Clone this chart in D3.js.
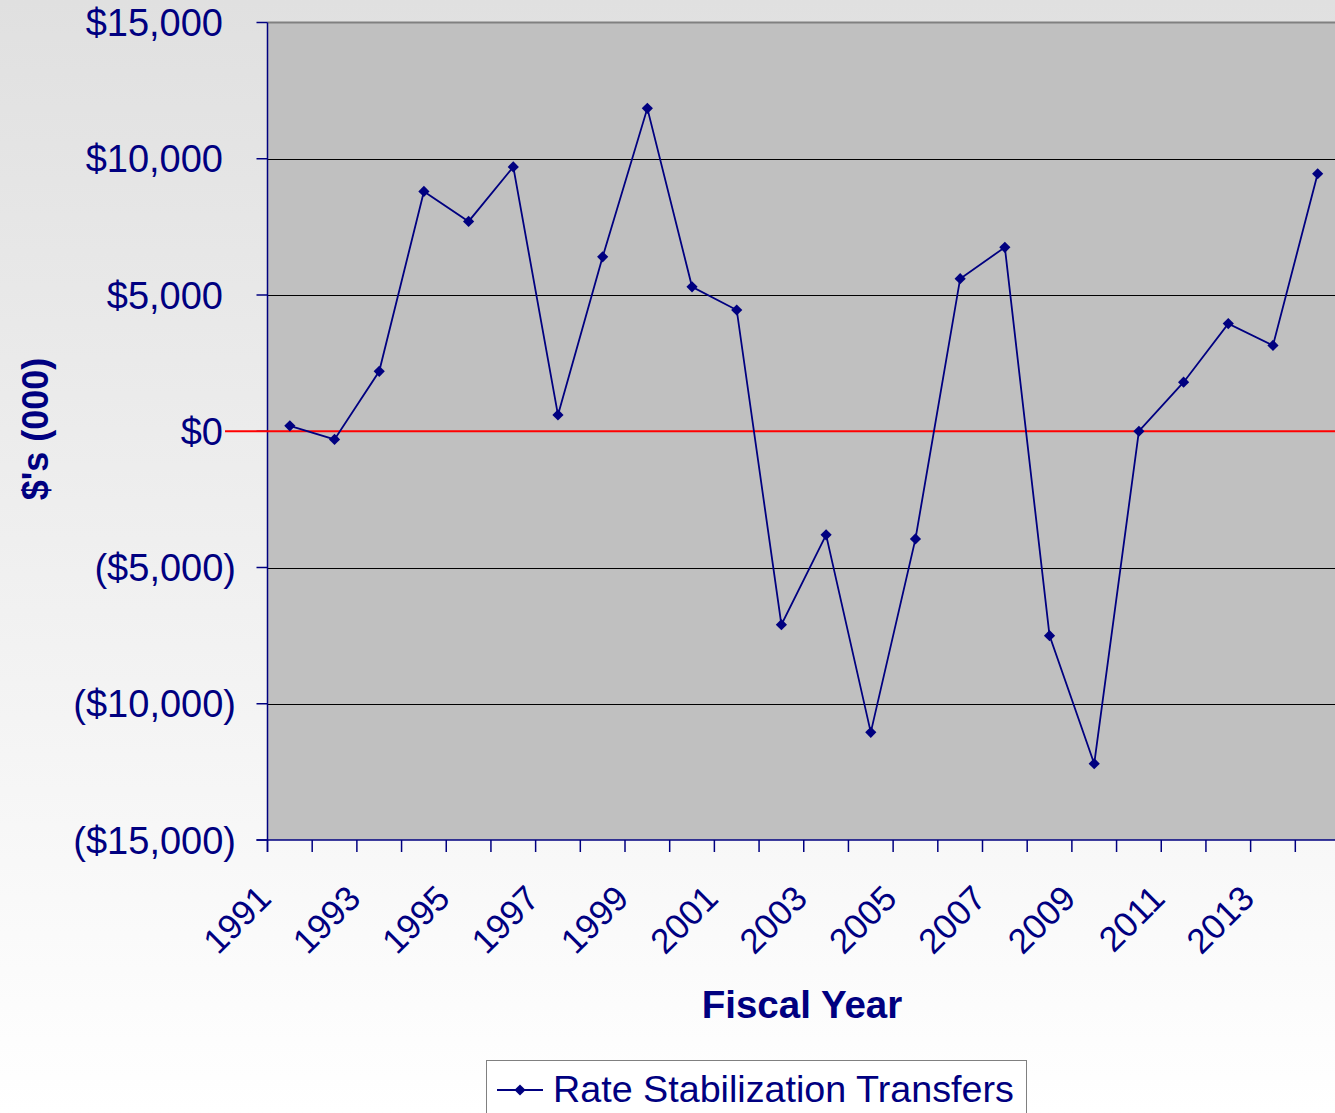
<!DOCTYPE html>
<html>
<head>
  <meta charset="utf-8" />
  <title>Rate Stabilization Transfers</title>
  <script src="https://cdn.jsdelivr.net/npm/d3@7"></script>
  <style>
    body { margin: 0; }
    text { font-family: Arial, "Liberation Sans", sans-serif; fill: #000080; }
  </style>
</head>
<body>
  <svg id="chart" width="1335" height="1113"></svg>
  <script>
    // fiscal years and transfer amounts ($000)
    var years = [1991, 1992, 1993, 1994, 1995, 1996, 1997, 1998, 1999, 2000, 2001, 2002,
                 2003, 2004, 2005, 2006, 2007, 2008, 2009, 2010, 2011, 2012, 2013, 2014];
    var transfers = [200, -300, 2200, 8800, 7700, 9700, 600, 6400, 11850, 5300, 4450, -7100,
                     -3800, -11050, -3950, 5600, 6750, -7500, -12200, 0, 1800, 3950, 3150, 9450];
    var yTicks = [15000, 10000, 5000, 0, -5000, -10000, -15000];
    var yearLabels = [1991, 1993, 1995, 1997, 1999, 2001, 2003, 2005, 2007, 2009, 2011, 2013];

    var svg = d3.select('#chart');
    var navy = '#000080';

    // page background: light gray fading to white
    var grad = svg.append('defs').append('linearGradient')
      .attr('id', 'bg').attr('x1', 0).attr('y1', 0).attr('x2', 0).attr('y2', 1);
    grad.append('stop').attr('offset', '0%').attr('stop-color', '#e0e0e0');
    grad.append('stop').attr('offset', '100%').attr('stop-color', '#ffffff');
    svg.append('rect').attr('width', 1335).attr('height', 1113).attr('fill', 'url(#bg)');

    var pLeft = 267.5, pTop = 22.5, pBottom = 840, pRight = 1340;

    var x = d3.scaleBand().domain(years).range([pLeft, pRight]);
    var y = d3.scaleLinear().domain([-15000, 15000]).range([pBottom, pTop]);

    svg.append('rect')
      .attr('x', pLeft).attr('y', pTop)
      .attr('width', pRight - pLeft).attr('height', pBottom - pTop)
      .attr('fill', '#c0c0c0');
    svg.append('line')
      .attr('x1', pLeft).attr('x2', pRight).attr('y1', pTop).attr('y2', pTop)
      .attr('stroke', '#808080').attr('stroke-width', 2);

    // gridlines
    svg.selectAll('.grid').data(yTicks.filter(function(d) { return d !== 15000 && d !== -15000 && d !== 0; }))
      .enter().append('line')
      .attr('x1', pLeft).attr('x2', pRight)
      .attr('y1', function(d) { return Math.round(y(d)) + 0.5; })
      .attr('y2', function(d) { return Math.round(y(d)) + 0.5; })
      .attr('stroke', '#000').attr('stroke-width', 1);

    // y axis
    svg.append('line')
      .attr('x1', pLeft).attr('x2', pLeft).attr('y1', pTop).attr('y2', pBottom + 12)
      .attr('stroke', navy).attr('stroke-width', 1.5);
    svg.selectAll('.ytick').data(yTicks).enter().append('line')
      .attr('x1', pLeft - 11).attr('x2', pLeft)
      .attr('y1', function(d) { return y(d); }).attr('y2', function(d) { return y(d); })
      .attr('stroke', navy).attr('stroke-width', 1.5);

    var fmt = d3.format(',');
    svg.selectAll('.ylab').data(yTicks).enter().append('text')
      .attr('x', function(d) { return d < 0 ? 236 : 223; })
      .attr('y', function(d) { return y(d); })
      .attr('dy', '0.36em')
      .attr('text-anchor', 'end')
      .style('font-size', '38px')
      .text(function(d) { return d < 0 ? '($' + fmt(-d) + ')' : '$' + fmt(d); });

    // x axis
    svg.append('line')
      .attr('x1', pLeft - 11).attr('x2', pRight).attr('y1', pBottom).attr('y2', pBottom)
      .attr('stroke', navy).attr('stroke-width', 1.5);
    svg.selectAll('.xtick').data(years).enter().append('line')
      .attr('x1', function(d) { return x(d); }).attr('x2', function(d) { return x(d); })
      .attr('y1', pBottom).attr('y2', pBottom + 12)
      .attr('stroke', navy).attr('stroke-width', 1.5);

    svg.selectAll('.xlab').data(yearLabels).enter().append('text')
      .attr('text-anchor', 'end')
      .attr('transform', function(d) {
        return 'translate(' + (x(d) - 12) + ',' + (pBottom + 43) + ') rotate(-45)';
      })
      .attr('dy', '0.71em')
      .style('font-size', '35px')
      .text(function(d) { return d; });

    // zero line
    svg.append('line')
      .attr('x1', 225).attr('x2', 1335)
      .attr('y1', y(0)).attr('y2', y(0))
      .attr('stroke', '#ff0000').attr('stroke-width', 2);

    // series
    var pts = years.map(function(yr, i) { return [x(yr) + x.bandwidth() / 2, y(transfers[i])]; });
    svg.append('path')
      .attr('d', d3.line()(pts))
      .attr('fill', 'none').attr('stroke', navy).attr('stroke-width', 1.8);
    svg.selectAll('.pt').data(pts).enter().append('path')
      .attr('d', d3.symbol().type(d3.symbolDiamond2).size(80))
      .attr('transform', function(d) { return 'translate(' + d[0] + ',' + d[1] + ')'; })
      .attr('fill', navy);

    // axis titles
    svg.append('text')
      .attr('x', 802).attr('y', 1018)
      .attr('text-anchor', 'middle')
      .style('font-size', '38.5px').style('font-weight', 'bold')
      .text('Fiscal Year');
    svg.append('text')
      .attr('transform', 'translate(48,429) rotate(-90)')
      .attr('text-anchor', 'middle')
      .style('font-size', '36px').style('font-weight', 'bold')
      .text("$'s (000)");

    // legend
    svg.append('rect')
      .attr('x', 486.5).attr('y', 1060.5).attr('width', 540).attr('height', 70)
      .attr('fill', '#ffffff').attr('stroke', '#808080').attr('stroke-width', 1);
    svg.append('line')
      .attr('x1', 497).attr('x2', 543).attr('y1', 1090).attr('y2', 1090)
      .attr('stroke', navy).attr('stroke-width', 1.8);
    svg.append('path')
      .attr('d', d3.symbol().type(d3.symbolDiamond2).size(80))
      .attr('transform', 'translate(520,1090)')
      .attr('fill', navy);
    svg.append('text')
      .attr('x', 553).attr('y', 1102)
      .style('font-size', '37.7px')
      .text('Rate Stabilization Transfers');
  </script>
</body>
</html>
